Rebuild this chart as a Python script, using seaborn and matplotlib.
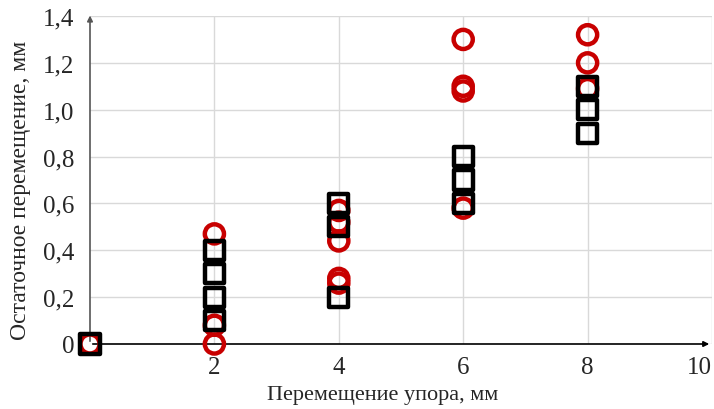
import matplotlib
matplotlib.use("Agg")
from matplotlib import pyplot as plt
import seaborn as sns
import pandas as pd

# Данные
круг_x = [0, 2, 2, 2, 4, 4, 4, 4, 4, 6, 6, 6, 6, 8, 8, 8]
круг_y = [0.0, 0.47, 0.08, 0.0, 0.57, 0.52, 0.44, 0.28, 0.26, 1.30, 1.10, 1.08, 0.58, 1.32, 1.20, 1.09]
квадрат_x = [0, 2, 2, 2, 2, 4, 4, 4, 6, 6, 6, 8, 8, 8]
квадрат_y = [0.0, 0.4, 0.3, 0.2, 0.1, 0.6, 0.5, 0.2, 0.8, 0.7, 0.6, 1.1, 1.0, 0.9]

x_ticks = [2, 4, 6, 8, 10]
y_ticks = [0, 0.2, 0.4, 0.6, 0.8, 1.0, 1.2, 1.4]
y_labels = ['0', '0,2', '0,4', '0,6', '0,8', '1,0', '1,2', '1,4']

sns.set_style('white')
plt.rcParams['font.family'] = ['Liberation Serif', 'DejaVu Serif']

df_c = pd.DataFrame({'x': круг_x, 'y': круг_y})
df_s = pd.DataFrame({'x': квадрат_x, 'y': квадрат_y})

fig = plt.figure(figsize=(7.14, 4.10), dpi=100)
ax = fig.add_axes([90 / 714, 65 / 410, 622 / 714, 328 / 410])

sns.scatterplot(data=df_c, x='x', y='y', ax=ax, marker='o', s=190,
                facecolors='none', edgecolor='#C80000', linewidth=3.2, clip_on=False, zorder=3)
sns.scatterplot(data=df_s, x='x', y='y', ax=ax, marker='s', s=190,
                facecolors='none', edgecolor='black', linewidth=3.2, clip_on=False, zorder=4)

ax.set_xlim(0, 10)
ax.set_ylim(0, 1.4)
ax.set_xticks(x_ticks)
ax.set_yticks(y_ticks)
ax.set_yticklabels(y_labels)
ax.tick_params(length=0, labelsize=18)
ax.tick_params(axis='y', pad=11)
ax.tick_params(axis='x', pad=9)
# последняя подпись "10" сдвинута внутрь, как в оригинале
last = ax.get_xticklabels()[-1]
last.set_horizontalalignment('right')
last.set_x(10.15)
ax.grid(True, color='#D9D9D9', linewidth=1)
ax.set_axisbelow(True)
for s in ax.spines.values():
    s.set_visible(False)

# оси со стрелками
ax.annotate('', xy=(0, 1.01), xytext=(0, 0), xycoords='axes fraction',
            arrowprops=dict(arrowstyle='-|>', color='#555555', lw=1.2, mutation_scale=8), zorder=2)
ax.annotate('', xy=(1.0, 0), xytext=(0, 0), xycoords='axes fraction',
            arrowprops=dict(arrowstyle='-|>', color='black', lw=1.2, mutation_scale=8), zorder=2)

ax.set_xlabel('Перемещение упора, мм', fontsize=16)
ax.set_ylabel('Остаточное перемещение, мм', fontsize=17)
ax.xaxis.set_label_coords(0.47, -0.125)
ax.yaxis.set_label_coords(-0.095, 0.47)

fig.savefig('out.png', dpi=100)
